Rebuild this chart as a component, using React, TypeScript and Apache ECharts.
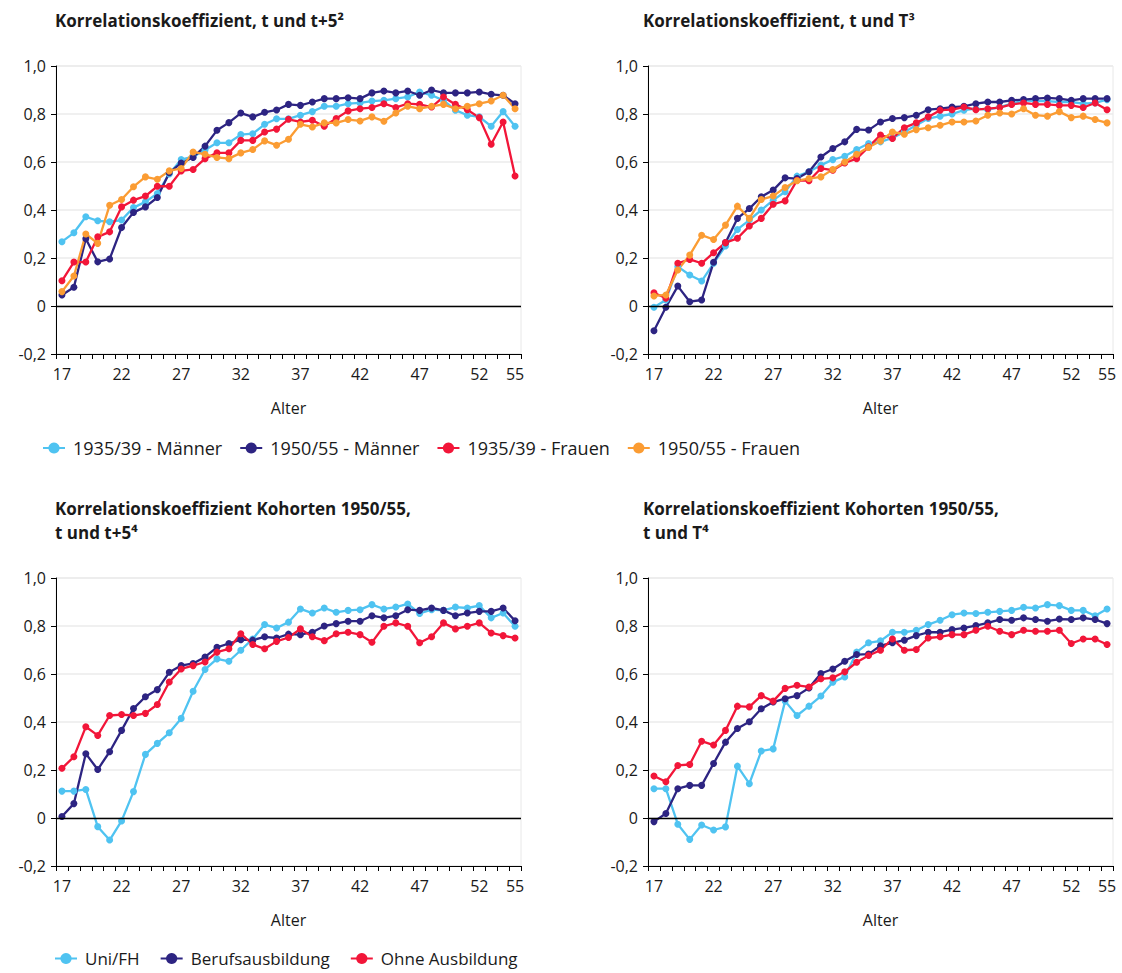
import React, { useEffect, useRef } from "react";
import * as echarts from "echarts";

const ages = ["17","18","19","20","21","22","23","24","25","26","27","28","29","30","31","32","33","34","35","36","37","38","39","40","41","42","43","44","45","46","47","48","49","50","51","52","53","54","55"];

const titles = [
  "Korrelationskoeffizient, t und t+5²",
  "Korrelationskoeffizient, t und T³",
  "Korrelationskoeffizient Kohorten 1950/55,\nt und t+5⁴",
  "Korrelationskoeffizient Kohorten 1950/55,\nt und T⁴",
];

const cohortNames = ["1935/39 - Männer", "1950/55 - Männer", "1935/39 - Frauen", "1950/55 - Frauen"];
const eduNames = ["Uni/FH", "Berufsausbildung", "Ohne Ausbildung"];

// Panel 1: t und t+5
const p1M3539 = [0.268,0.305,0.372,0.355,0.351,0.358,0.41,0.434,0.469,0.55,0.61,0.622,0.65,0.68,0.68,0.714,0.718,0.757,0.78,0.78,0.795,0.81,0.832,0.832,0.843,0.846,0.854,0.857,0.864,0.871,0.892,0.878,0.857,0.816,0.795,0.788,0.749,0.81,0.749];
const p1M5055 = [0.046,0.078,0.28,0.184,0.196,0.327,0.39,0.413,0.452,0.555,0.596,0.619,0.666,0.732,0.764,0.804,0.788,0.807,0.817,0.84,0.836,0.85,0.864,0.864,0.868,0.864,0.888,0.896,0.888,0.896,0.878,0.9,0.888,0.888,0.888,0.892,0.882,0.878,0.843];
const p1F3539 = [0.105,0.183,0.183,0.288,0.309,0.413,0.441,0.458,0.499,0.499,0.563,0.569,0.614,0.638,0.638,0.69,0.69,0.725,0.737,0.778,0.767,0.774,0.749,0.781,0.813,0.822,0.827,0.843,0.827,0.843,0.84,0.829,0.871,0.84,0.818,0.785,0.674,0.767,0.542];
const p1F5055 = [0.06,0.125,0.3,0.261,0.42,0.444,0.497,0.538,0.528,0.563,0.573,0.642,0.632,0.619,0.614,0.638,0.652,0.688,0.67,0.695,0.757,0.746,0.763,0.763,0.777,0.771,0.788,0.77,0.804,0.832,0.822,0.832,0.84,0.822,0.832,0.843,0.854,0.878,0.822];

// Panel 2: t und T
const p2M3539 = [-0.005,0.025,0.164,0.129,0.104,0.178,0.25,0.319,0.358,0.4,0.441,0.476,0.541,0.559,0.587,0.61,0.624,0.652,0.677,0.684,0.7,0.725,0.753,0.781,0.791,0.8,0.816,0.822,0.818,0.829,0.843,0.857,0.854,0.854,0.85,0.85,0.843,0.846,0.86];
const p2M5055 = [-0.103,-0.005,0.083,0.018,0.025,0.182,0.264,0.365,0.406,0.455,0.483,0.534,0.531,0.559,0.621,0.656,0.684,0.736,0.733,0.767,0.781,0.785,0.795,0.818,0.822,0.829,0.832,0.843,0.85,0.85,0.857,0.86,0.864,0.867,0.864,0.857,0.864,0.864,0.864];
const p2F3539 = [0.055,0.032,0.178,0.194,0.178,0.222,0.264,0.282,0.333,0.365,0.424,0.438,0.524,0.522,0.573,0.566,0.596,0.614,0.663,0.712,0.698,0.743,0.763,0.788,0.816,0.818,0.829,0.818,0.822,0.827,0.84,0.846,0.84,0.84,0.836,0.836,0.827,0.846,0.818];
const p2F5055 = [0.042,0.046,0.15,0.212,0.295,0.277,0.337,0.416,0.365,0.444,0.458,0.494,0.522,0.531,0.538,0.569,0.6,0.632,0.661,0.688,0.725,0.716,0.735,0.743,0.753,0.767,0.767,0.771,0.795,0.804,0.8,0.822,0.795,0.791,0.81,0.785,0.791,0.777,0.763];

// Panel 3: Kohorten 1950/55, t und t+5
const p3Uni = [0.112,0.112,0.119,-0.036,-0.092,-0.012,0.11,0.265,0.311,0.355,0.415,0.528,0.619,0.663,0.653,0.699,0.746,0.806,0.792,0.816,0.871,0.854,0.875,0.857,0.865,0.868,0.889,0.871,0.879,0.892,0.852,0.868,0.865,0.879,0.875,0.885,0.834,0.854,0.799];
const p3Beruf = [0.006,0.06,0.268,0.202,0.276,0.365,0.456,0.505,0.535,0.607,0.635,0.644,0.671,0.711,0.727,0.743,0.741,0.755,0.75,0.766,0.764,0.774,0.8,0.81,0.82,0.82,0.843,0.834,0.843,0.868,0.865,0.875,0.865,0.843,0.854,0.861,0.861,0.875,0.822];
const p3Ohne = [0.207,0.255,0.38,0.344,0.427,0.431,0.427,0.436,0.473,0.567,0.621,0.635,0.65,0.691,0.705,0.768,0.723,0.705,0.736,0.752,0.788,0.755,0.739,0.768,0.774,0.764,0.732,0.799,0.813,0.799,0.73,0.755,0.813,0.788,0.799,0.813,0.771,0.76,0.75];

// Panel 4: Kohorten 1950/55, t und T
const p4Uni = [0.122,0.122,-0.026,-0.089,-0.029,-0.05,-0.037,0.216,0.143,0.279,0.288,0.487,0.427,0.466,0.508,0.566,0.588,0.691,0.73,0.738,0.774,0.774,0.782,0.806,0.824,0.847,0.854,0.852,0.857,0.861,0.865,0.878,0.875,0.889,0.885,0.865,0.865,0.843,0.871];
const p4Beruf = [-0.015,0.019,0.122,0.136,0.136,0.227,0.316,0.373,0.401,0.455,0.483,0.497,0.51,0.542,0.602,0.621,0.653,0.681,0.683,0.718,0.73,0.741,0.76,0.774,0.774,0.785,0.792,0.802,0.813,0.827,0.824,0.834,0.827,0.82,0.829,0.827,0.834,0.827,0.81];
const p4Ohne = [0.175,0.151,0.219,0.223,0.32,0.304,0.365,0.466,0.463,0.51,0.487,0.54,0.553,0.546,0.58,0.584,0.609,0.649,0.677,0.699,0.746,0.699,0.702,0.75,0.755,0.764,0.764,0.782,0.799,0.778,0.764,0.782,0.778,0.778,0.782,0.727,0.746,0.746,0.723];

const C_LIGHT = "#4FC3F1";
const C_DARK = "#2D2482";
const C_RED = "#F21639";
const C_ORANGE = "#FB9C33";

const FONT = "'Open Sans', 'Noto Sans', sans-serif";
const TXT = "#1a1a1a";

export default function App() {
  const ref = useRef<HTMLDivElement>(null);

  useEffect(() => {
    if (!ref.current) return;
    const chart = echarts.init(ref.current, undefined, { renderer: "svg" });

    const grids = [
      { left: 56, top: 66, width: 465, height: 288 },
      { left: 648, top: 66, width: 465, height: 288 },
      { left: 56, top: 578, width: 465, height: 288 },
      { left: 648, top: 578, width: 465, height: 288 },
    ].map((g) => ({
      ...g,
      show: true,
      borderColor: "#e8e8e8",
      borderWidth: 1,
      backgroundColor: "transparent",
    }));

    const xAxes = grids.map((_, i) => ({
      type: "category",
      gridIndex: i,
      data: ages,
      boundaryGap: true,
      name: "Alter",
      nameLocation: "middle",
      nameGap: 46,
      nameTextStyle: { fontSize: 16, color: TXT, fontFamily: FONT },
      axisLine: { onZero: false, lineStyle: { color: "#000", width: 1 } },
      axisTick: { show: true, interval: 0, length: 5, lineStyle: { color: "#000" } },
      axisLabel: {
        interval: (idx: number) => idx % 5 === 0 || idx === ages.length - 1,
        fontSize: 16,
        color: TXT,
        fontFamily: FONT,
        margin: 12,
      },
      splitLine: { show: false },
    }));

    const yAxes = grids.map((_, i) => ({
      type: "value",
      gridIndex: i,
      min: -0.2,
      max: 1.0,
      interval: 0.2,
      axisLine: { show: true, lineStyle: { color: "#000", width: 1 } },
      axisTick: { show: true, length: 5, lineStyle: { color: "#000" } },
      axisLabel: {
        fontSize: 16,
        color: TXT,
        fontFamily: FONT,
        margin: 10,
        formatter: (v: number) => (Math.abs(v) < 1e-9 ? "0" : v.toFixed(1).replace(".", ",")),
      },
      splitLine: { show: true, lineStyle: { color: "#ebebeb", width: 1.5 } },
    }));

    const mk = (name: string, data: number[], color: string, idx: number, withZero: boolean) => ({
      type: "line",
      name,
      xAxisIndex: idx,
      yAxisIndex: idx,
      data,
      symbol: "circle",
      symbolSize: 7,
      showSymbol: true,
      lineStyle: { color, width: 2.3 },
      itemStyle: { color },
      emphasis: { disabled: true },
      markLine: withZero
        ? {
            silent: true,
            symbol: "none",
            label: { show: false },
            lineStyle: { color: "#000", width: 1.3, type: "solid" },
            data: [{ yAxis: 0 }],
          }
        : undefined,
      z: 3,
    });

    const series = [
      mk(cohortNames[0], p1M3539, C_LIGHT, 0, true),
      mk(cohortNames[1], p1M5055, C_DARK, 0, false),
      mk(cohortNames[2], p1F3539, C_RED, 0, false),
      mk(cohortNames[3], p1F5055, C_ORANGE, 0, false),
      mk(cohortNames[0], p2M3539, C_LIGHT, 1, true),
      mk(cohortNames[1], p2M5055, C_DARK, 1, false),
      mk(cohortNames[2], p2F3539, C_RED, 1, false),
      mk(cohortNames[3], p2F5055, C_ORANGE, 1, false),
      mk(eduNames[0], p3Uni, C_LIGHT, 2, true),
      mk(eduNames[1], p3Beruf, C_DARK, 2, false),
      mk(eduNames[2], p3Ohne, C_RED, 2, false),
      mk(eduNames[0], p4Uni, C_LIGHT, 3, true),
      mk(eduNames[1], p4Beruf, C_DARK, 3, false),
      mk(eduNames[2], p4Ohne, C_RED, 3, false),
    ];

    const titleStyle = {
      fontSize: 17,
      fontWeight: "bold",
      color: TXT,
      fontFamily: FONT,
      lineHeight: 24,
    };

    const legendText1 = { fontSize: 18, color: TXT, fontFamily: FONT, lineHeight: 18, padding: [0, 0, 0, 3] };
    const legendText2 = { fontSize: 17, color: TXT, fontFamily: FONT, lineHeight: 17, padding: [0, 0, 0, 3] };

    chart.setOption({
      animation: false,
      backgroundColor: "#fff",
      title: [
        { text: titles[0], left: 55, top: 8, padding: 0, textStyle: titleStyle },
        { text: titles[1], left: 643, top: 8, padding: 0, textStyle: titleStyle },
        { text: titles[2], left: 55, top: 496, padding: 0, textStyle: titleStyle },
        { text: titles[3], left: 643, top: 496, padding: 0, textStyle: titleStyle },
      ],
      legend: [
        {
          data: cohortNames,
          left: 42,
          top: 439,
          padding: 0,
          itemWidth: 22,
          itemHeight: 14,
          itemGap: 17,
          selectedMode: false,
          textStyle: legendText1,
        },
        {
          data: eduNames,
          left: 54,
          top: 950,
          padding: 0,
          itemWidth: 22,
          itemHeight: 14,
          itemGap: 20,
          selectedMode: false,
          textStyle: legendText2,
        },
      ],
      grid: grids,
      xAxis: xAxes,
      yAxis: yAxes,
      series,
    });

    return () => chart.dispose();
  }, []);

  return (
    <div
      ref={ref}
      style={{ position: "absolute", left: 0, top: 0, width: 1122, height: 973 }}
    />
  );
}
